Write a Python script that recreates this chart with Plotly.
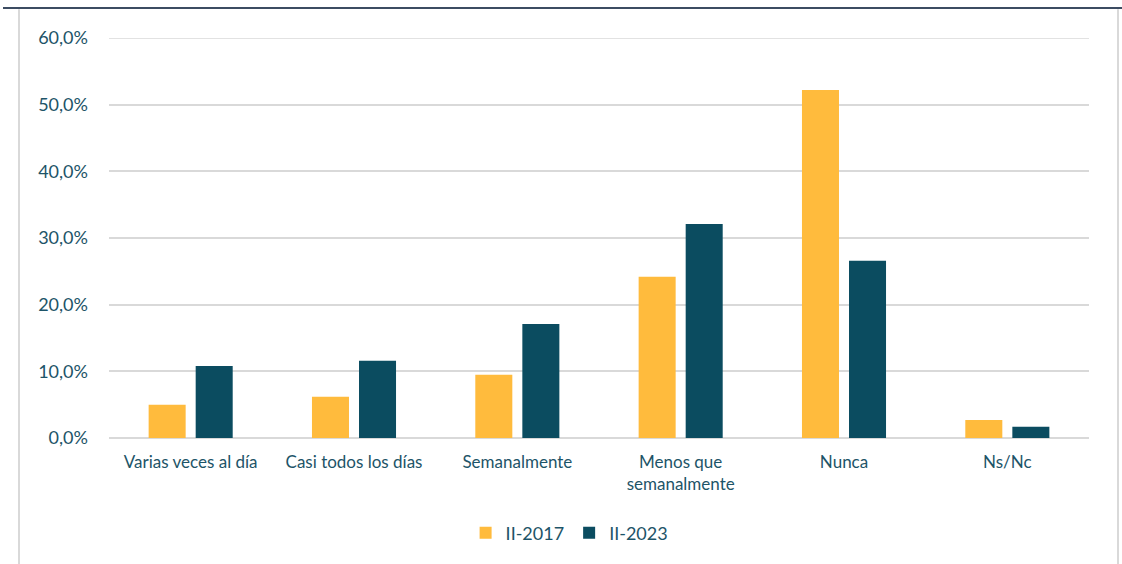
import plotly.graph_objects as go

categories = ["Varias veces al día", "Casi todos los días", "Semanalmente",
              "Menos que<br>semanalmente", "Nunca", "Ns/Nc"]
series_2017 = [5.0, 6.2, 9.5, 24.2, 52.2, 2.7]
series_2023 = [10.8, 11.6, 17.1, 32.1, 26.6, 1.7]
names = ["II-2017", "II-2023"]
y_ticks = [0, 10, 20, 30, 40, 50, 60]
y_tick_text = [f"{v:.1f}%".replace(".", ",") for v in y_ticks]

TEXT = "#1d5468"
FONT = "Lato"

fig = go.Figure()
fig.add_trace(go.Bar(x=categories, y=series_2017, name=names[0],
                     marker=dict(color="#ffbb3d", line=dict(width=0))))
fig.add_trace(go.Bar(x=categories, y=series_2023, name=names[1],
                     marker=dict(color="#0b4c60", line=dict(width=0))))

fig.update_layout(
    width=1122, height=564,
    margin=dict(l=109, r=33, t=38, b=126),
    paper_bgcolor="white", plot_bgcolor="white",
    barmode="group", bargap=0.424, bargroupgap=0.213,
    font=dict(family=FONT, color=TEXT, size=17),
    showlegend=True,
    legend=dict(orientation="h", x=0.47, xanchor="center", y=-0.2375, yanchor="middle",
                font=dict(size=18, color=TEXT), itemwidth=30, traceorder="normal"),
    yaxis=dict(range=[0, 60], tickvals=y_ticks, ticktext=y_tick_text,
               showgrid=True, gridcolor="#d9d9d9", gridwidth=1.5,
               zeroline=True, zerolinecolor="#d9d9d9", zerolinewidth=1.5,
               showline=False, ticks="", ticklabelstandoff=20,
               tickfont=dict(size=18, color=TEXT)),
    xaxis=dict(showline=False, ticks="", tickfont=dict(size=17, color=TEXT),
               ticklabelstandoff=12),
    shapes=[
        dict(type="line", xref="paper", yref="y",
             x0=0, x1=1, y0=y_ticks[-1], y1=y_ticks[-1],
             line=dict(color="#d9d9d9", width=1.5), layer="below"),
        dict(type="line", xref="paper", yref="paper",
             x0=(3 - 109) / 980, x1=(1122 - 109) / 980, y0=1.075, y1=1.075,
             line=dict(color="#3c4c62", width=2)),
        dict(type="line", xref="paper", yref="paper",
             x0=(19 - 109) / 980, x1=(19 - 109) / 980, y0=1.072, y1=-0.32,
             line=dict(color="#d9d9d9", width=2)),
        dict(type="line", xref="paper", yref="paper",
             x0=(1118 - 109) / 980, x1=(1118 - 109) / 980, y0=1.072, y1=-0.32,
             line=dict(color="#d9d9d9", width=2)),
    ],
)

fig.write_html("out.html")
